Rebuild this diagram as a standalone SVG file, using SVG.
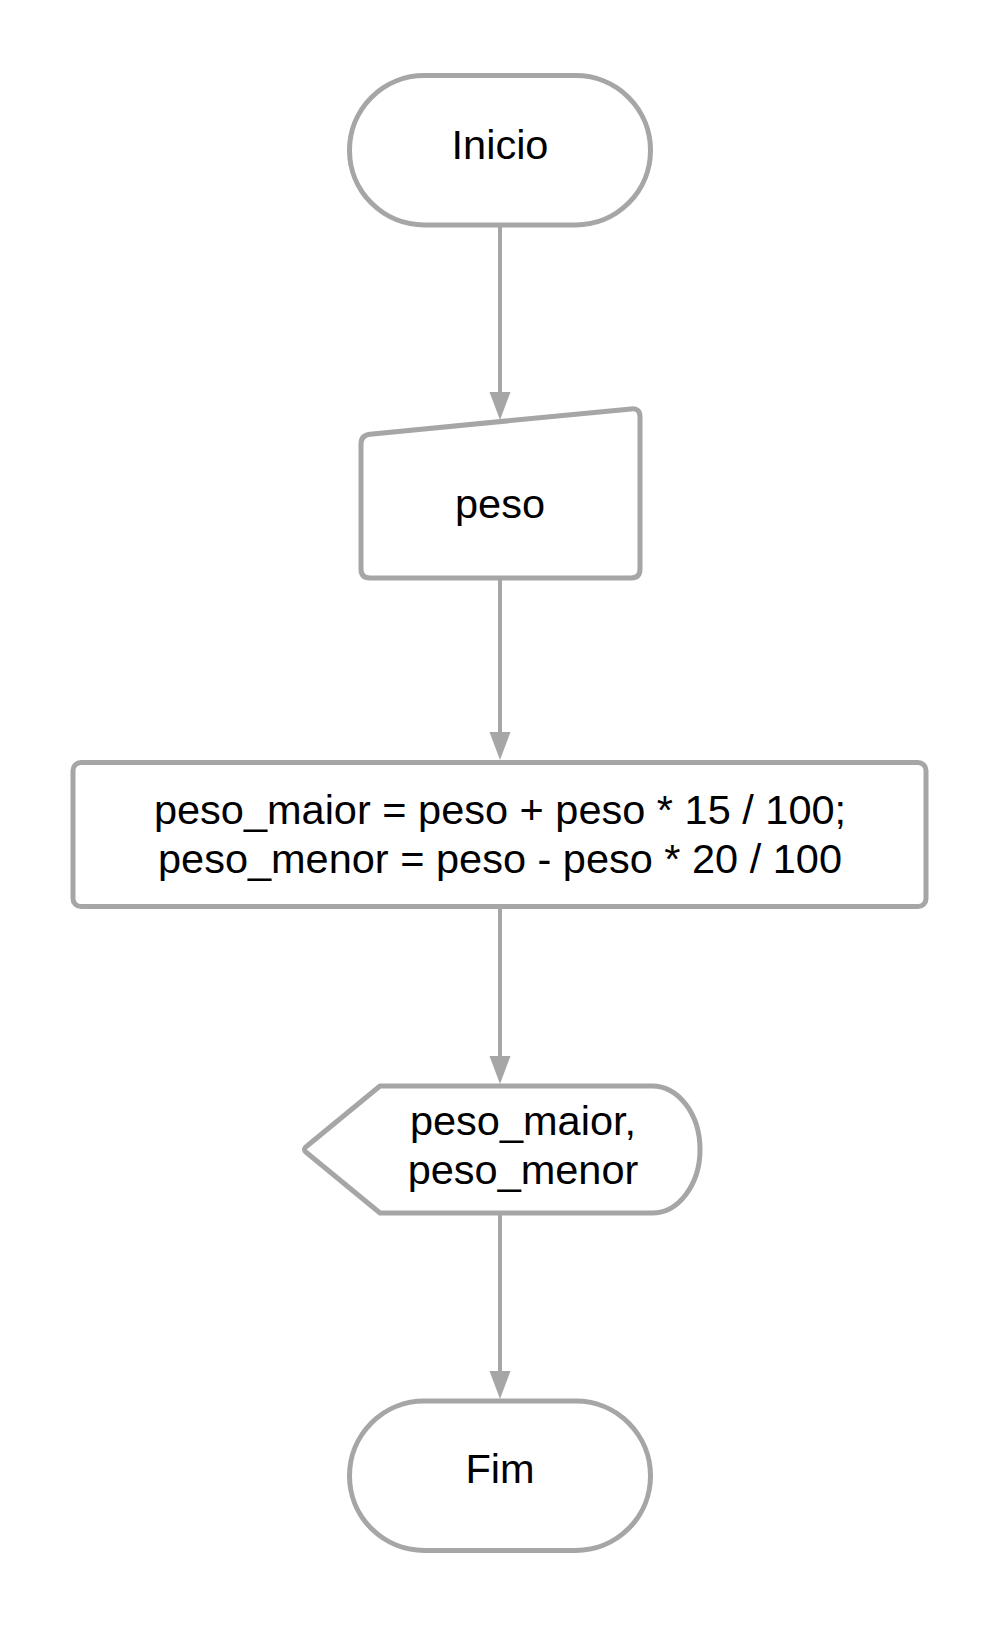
<svg xmlns="http://www.w3.org/2000/svg" width="1003" height="1626" viewBox="0 0 1003 1626">
  <style>
    .shape { fill: #ffffff; stroke: #a6a6a6; stroke-width: 5; stroke-linejoin: round; }
    .conn { fill: none; stroke: #a6a6a6; stroke-width: 4; }
    .label { font-family: "Liberation Sans", Arial, sans-serif; font-size: 41.5px; fill: #000000; text-anchor: middle; }
  </style>
  <defs>
    <marker id="arrow" markerUnits="userSpaceOnUse" markerWidth="28" markerHeight="22" refX="18" refY="11" orient="auto">
      <path d="M0,0.5 L28,11 L0,21.5 Z" fill="#a6a6a6"/>
    </marker>
  </defs>
  <rect width="1003" height="1626" fill="#ffffff"/>

  <g id="connectors">
    <line class="conn" x1="500" y1="227" x2="500" y2="410" marker-end="url(#arrow)"/>
    <line class="conn" x1="500" y1="580" x2="500" y2="750" marker-end="url(#arrow)"/>
    <line class="conn" x1="500" y1="909" x2="500" y2="1074" marker-end="url(#arrow)"/>
    <line class="conn" x1="500" y1="1215" x2="500" y2="1389" marker-end="url(#arrow)"/>
  </g>

  <g id="inicio">
    <rect class="shape" x="349.5" y="75.5" width="301" height="149.5" rx="74.75"/>
    <text class="label" x="500" y="159">Inicio</text>
  </g>

  <g id="entrada-peso">
    <path class="shape" d="M361 444 Q361 435 370 434.2 L631 408.9 Q640 408 640 417 L640 569 Q640 578 631 578 L370 578 Q361 578 361 569 Z"/>
    <text class="label" x="500" y="518">peso</text>
  </g>

  <g id="processo">
    <rect class="shape" x="73" y="762.5" width="853" height="144" rx="8"/>
    <text class="label" x="500" y="824">peso_maior = peso + peso * 15 / 100;</text>
    <text class="label" x="500" y="873">peso_menor = peso - peso * 20 / 100</text>
  </g>

  <g id="saida">
    <path class="shape" d="M380 1086 L652 1086 A48 63.5 0 0 1 652 1213 L380 1213 L307 1153 Q302 1149.5 307 1146 Z"/>
    <text class="label" x="523" y="1135">peso_maior,</text>
    <text class="label" x="523" y="1184">peso_menor</text>
  </g>

  <g id="fim">
    <rect class="shape" x="349.5" y="1401" width="301" height="149.5" rx="74.75"/>
    <text class="label" x="500" y="1483">Fim</text>
  </g>
</svg>
